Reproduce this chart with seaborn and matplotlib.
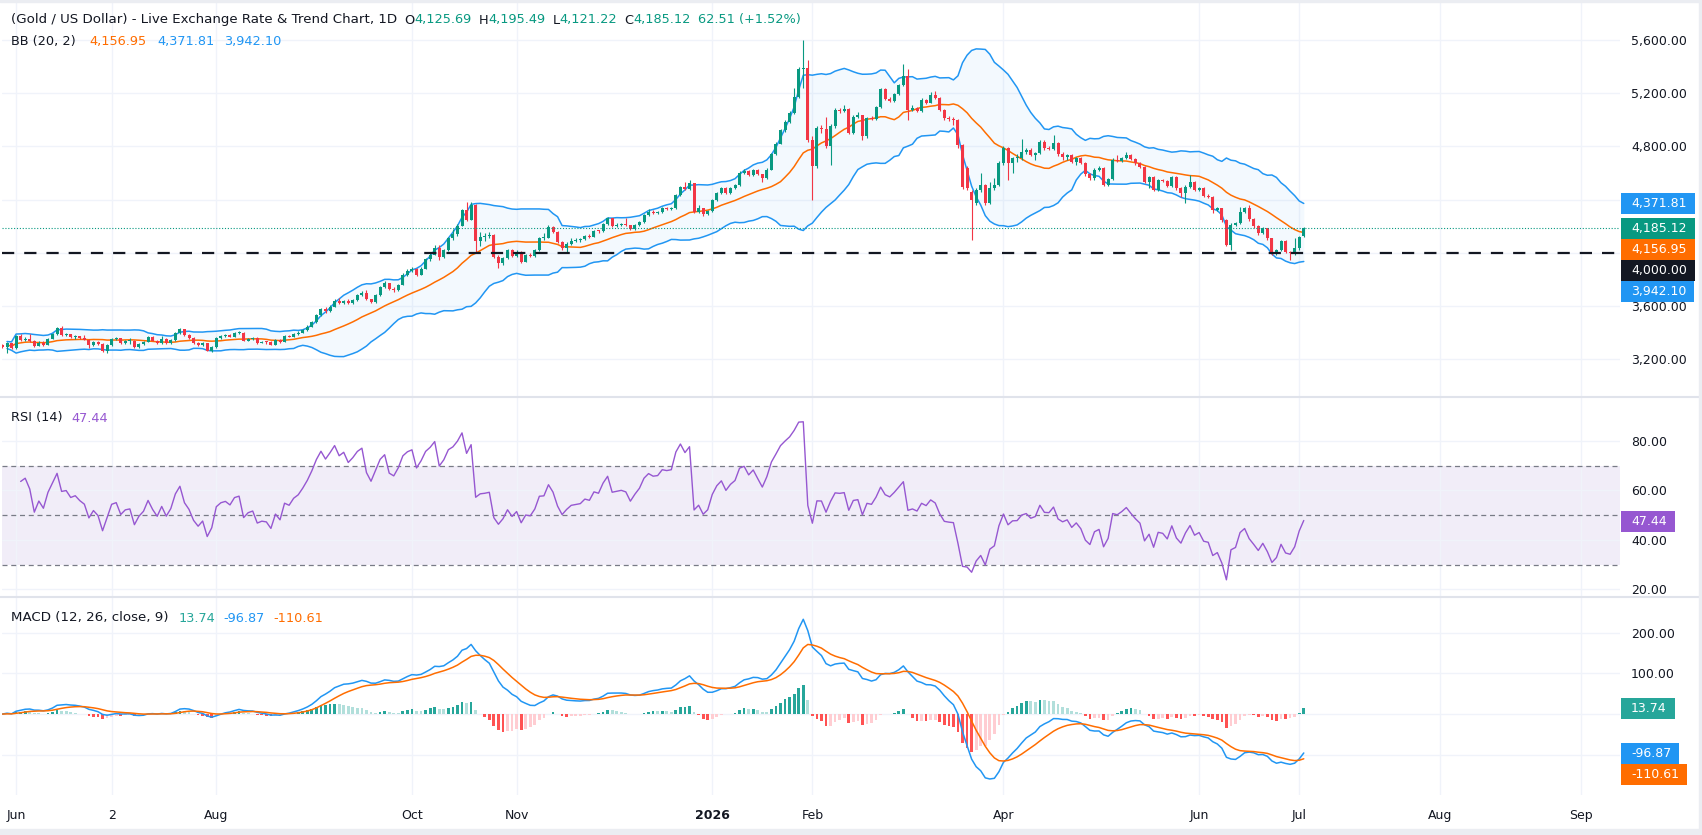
import numpy as np
import pandas as pd
import matplotlib
matplotlib.use("Agg")
import matplotlib.pyplot as plt
import seaborn as sns
from matplotlib.patches import Rectangle
from matplotlib.lines import Line2D
from matplotlib.ticker import FuncFormatter

# daily gold candles, 28 May 2025 .. 2 Jul 2026
opens = [
    3310, 3294, 3320, 3282, 3375, 3345, 3352, 3338, 3300, 3325,
    3310, 3355, 3390, 3432, 3382, 3386, 3365, 3372, 3358, 3348,
    3307, 3330, 3315, 3265, 3305, 3350, 3356, 3320, 3335, 3338,
    3290, 3315, 3330, 3365, 3340, 3320, 3350, 3322, 3345, 3395,
    3425, 3380, 3360, 3325, 3305, 3320, 3265, 3290, 3360, 3375,
    3380, 3370, 3395, 3400, 3340, 3355, 3360, 3325, 3330, 3328,
    3310, 3345, 3330, 3375, 3370, 3390, 3400, 3420, 3445, 3480,
    3530, 3575, 3560, 3595, 3640, 3620, 3640, 3620, 3645, 3680,
    3700, 3650, 3630, 3680, 3740, 3770, 3725, 3718, 3760, 3835,
    3865, 3880, 3835, 3880, 3950, 3985, 4040, 3970, 4018, 4110,
    4140, 4205, 4322, 4250, 4360, 4090, 4121, 4126, 4134, 3971,
    3921, 3958, 4021, 3976, 4009, 3933, 3983, 3978, 4021, 4109,
    4112, 4196, 4159, 4084, 4034, 4066, 4091, 4096, 4101, 4126,
    4121, 4166, 4161, 4217, 4259, 4202, 4207, 4212, 4207, 4177,
    4207, 4234, 4284, 4309, 4302, 4305, 4334, 4332, 4336, 4435,
    4497, 4477, 4522, 4309, 4334, 4292, 4314, 4397, 4452, 4485,
    4447, 4485, 4510, 4600, 4615, 4585, 4620, 4590, 4560, 4625,
    4740, 4820, 4920, 4985, 5050, 5170, 5380, 5390, 4850, 4650,
    4935, 4933, 4805, 4950, 5075, 5070, 5080, 4900, 5025, 5035,
    4875, 5015, 5005, 5095, 5230, 5160, 5140, 5195, 5262, 5330,
    5075, 5090, 5070, 5150, 5130, 5187, 5163, 5075, 5011, 5004,
    5000, 4810, 4640, 4460, 4372, 4472, 4510, 4372, 4485, 4510,
    4673, 4785, 4673, 4710, 4712, 4760, 4773, 4735, 4748, 4836,
    4785, 4783, 4823, 4743, 4723, 4735, 4685, 4710, 4673, 4593,
    4560, 4623, 4635, 4510, 4552, 4698, 4690, 4710, 4735, 4703,
    4673, 4648, 4535, 4567, 4472, 4547, 4540, 4502, 4567, 4485,
    4447, 4497, 4535, 4472, 4485, 4427, 4420, 4322, 4334, 4247,
    4059, 4209, 4222, 4309, 4334, 4252, 4202, 4146, 4184, 4109,
    3996, 4021, 4091, 4009, 3996, 4034, 4125.69,
]
highs = [
    3318, 3330, 3325, 3385, 3392, 3368, 3390, 3345, 3334, 3338,
    3362, 3398, 3440, 3448, 3398, 3392, 3380, 3378, 3380, 3352,
    3336, 3340, 3320, 3312, 3358, 3365, 3360, 3342, 3360, 3342,
    3322, 3338, 3372, 3372, 3346, 3378, 3356, 3352, 3402, 3438,
    3430, 3386, 3366, 3330, 3328, 3325, 3298, 3368, 3385, 3392,
    3388, 3402, 3410, 3405, 3362, 3370, 3366, 3338, 3336, 3334,
    3352, 3350, 3384, 3382, 3398, 3410, 3430, 3455, 3490, 3540,
    3585, 3592, 3604, 3652, 3658, 3648, 3650, 3654, 3690, 3710,
    3718, 3656, 3688, 3748, 3790, 3776, 3740, 3768, 3845, 3875,
    3895, 3886, 3890, 3960, 3995, 4058, 4060, 4030, 4118, 4180,
    4215, 4330, 4380, 4382, 4365, 4160, 4150, 4160, 4140, 3980,
    3970, 4030, 4030, 4020, 4015, 3992, 3995, 4030, 4118, 4150,
    4210, 4205, 4165, 4090, 4080, 4110, 4115, 4115, 4135, 4138,
    4175, 4172, 4226, 4268, 4264, 4225, 4225, 4260, 4212, 4216,
    4242, 4292, 4330, 4320, 4318, 4342, 4345, 4346, 4444, 4505,
    4530, 4550, 4526, 4360, 4340, 4325, 4405, 4460, 4495, 4492,
    4494, 4520, 4612, 4628, 4622, 4630, 4628, 4595, 4636, 4752,
    4832, 4932, 4998, 5070, 5240, 5395, 5600, 5450, 4880, 4950,
    4960, 5020, 4965, 5090, 5090, 5110, 5090, 5040, 5060, 5040,
    5025, 5030, 5105, 5240, 5236, 5175, 5205, 5270, 5420, 5380,
    5110, 5100, 5162, 5158, 5212, 5215, 5170, 5082, 5030, 5025,
    5010, 4820, 4650, 4470, 4485, 4600, 4520, 4530, 4560, 4690,
    4800, 4795, 4720, 4740, 4853, 4790, 4790, 4760, 4845, 4850,
    4800, 4885, 4830, 4760, 4745, 4745, 4720, 4718, 4680, 4600,
    4640, 4650, 4645, 4565, 4710, 4735, 4722, 4760, 4745, 4712,
    4680, 4655, 4575, 4575, 4558, 4556, 4548, 4578, 4575, 4492,
    4510, 4585, 4542, 4495, 4492, 4440, 4428, 4345, 4340, 4252,
    4222, 4235, 4345, 4345, 4362, 4260, 4210, 4195, 4190, 4115,
    4032, 4100, 4098, 4015, 4110, 4130, 4195.49,
]
lows = [
    3285, 3250, 3275, 3278, 3338, 3340, 3332, 3292, 3296, 3300,
    3305, 3350, 3385, 3378, 3372, 3358, 3355, 3350, 3342, 3282,
    3300, 3308, 3258, 3248, 3300, 3342, 3312, 3314, 3318, 3284,
    3282, 3310, 3326, 3334, 3314, 3316, 3316, 3318, 3340, 3390,
    3374, 3352, 3318, 3296, 3300, 3260, 3258, 3285, 3352, 3368,
    3364, 3365, 3390, 3334, 3335, 3348, 3318, 3320, 3318, 3304,
    3306, 3325, 3326, 3364, 3366, 3385, 3396, 3415, 3440, 3476,
    3525, 3548, 3552, 3590, 3612, 3614, 3612, 3615, 3640, 3672,
    3644, 3622, 3626, 3676, 3734, 3718, 3708, 3712, 3755, 3828,
    3858, 3826, 3830, 3875, 3940, 3980, 3945, 3960, 4012, 4100,
    4130, 4200, 4240, 4245, 4005, 4050, 4090, 4110, 3960, 3886,
    3910, 3950, 3965, 3968, 3925, 3928, 3968, 3970, 4015, 4095,
    4108, 4150, 4075, 4022, 4000, 4060, 4080, 4085, 4095, 4112,
    4116, 4152, 4156, 4212, 4195, 4196, 4200, 4200, 4170, 4172,
    4200, 4228, 4280, 4290, 4292, 4298, 4325, 4325, 4330, 4430,
    4470, 4472, 4300, 4300, 4280, 4285, 4308, 4390, 4445, 4440,
    4442, 4478, 4505, 4590, 4578, 4580, 4582, 4530, 4555, 4620,
    4735, 4815, 4910, 4978, 5045, 5165, 5240, 4830, 4400, 4640,
    4900, 4790, 4660, 4940, 5050, 5060, 4890, 4895, 5015, 4850,
    4865, 4995, 5000, 5090, 5150, 5132, 5135, 5188, 5255, 5000,
    5065, 5060, 5062, 5120, 5125, 5155, 5065, 5000, 4990, 4960,
    4790, 4480, 4470, 4096, 4360, 4460, 4360, 4365, 4475, 4500,
    4660, 4545, 4600, 4680, 4700, 4745, 4725, 4700, 4740, 4775,
    4770, 4775, 4730, 4700, 4700, 4675, 4660, 4665, 4580, 4545,
    4550, 4615, 4500, 4505, 4545, 4680, 4680, 4702, 4695, 4662,
    4640, 4525, 4485, 4462, 4465, 4530, 4492, 4498, 4475, 4420,
    4372, 4490, 4462, 4465, 4418, 4410, 4300, 4312, 4235, 4050,
    4022, 4200, 4215, 4300, 4240, 4190, 4135, 4140, 4098, 3985,
    3980, 4010, 3998, 3945, 3980, 4025, 4121.22,
]
closes = [
    3294, 3320, 3282, 3375, 3345, 3352, 3338, 3300, 3325, 3310,
    3355, 3390, 3432, 3382, 3386, 3365, 3372, 3358, 3348, 3307,
    3330, 3315, 3265, 3305, 3350, 3356, 3320, 3335, 3338, 3290,
    3315, 3330, 3365, 3340, 3320, 3350, 3322, 3345, 3395, 3425,
    3380, 3360, 3325, 3305, 3320, 3265, 3290, 3360, 3375, 3380,
    3370, 3395, 3400, 3340, 3355, 3360, 3325, 3330, 3328, 3310,
    3345, 3330, 3375, 3370, 3390, 3400, 3420, 3445, 3480, 3530,
    3575, 3560, 3595, 3640, 3620, 3640, 3620, 3645, 3680, 3700,
    3650, 3630, 3680, 3740, 3770, 3725, 3718, 3760, 3835, 3865,
    3880, 3835, 3880, 3950, 3985, 4040, 3970, 4018, 4110, 4140,
    4205, 4322, 4250, 4360, 4090, 4121, 4126, 4134, 3971, 3921,
    3958, 4021, 3976, 4009, 3933, 3983, 3978, 4021, 4109, 4112,
    4196, 4159, 4084, 4034, 4066, 4091, 4096, 4101, 4126, 4121,
    4166, 4161, 4217, 4259, 4202, 4207, 4212, 4207, 4177, 4207,
    4234, 4284, 4309, 4302, 4305, 4334, 4332, 4336, 4435, 4497,
    4477, 4522, 4309, 4334, 4292, 4314, 4397, 4452, 4485, 4447,
    4485, 4510, 4600, 4615, 4585, 4620, 4590, 4560, 4625, 4740,
    4820, 4920, 4985, 5050, 5170, 5380, 5390, 4850, 4650, 4935,
    4933, 4805, 4950, 5075, 5070, 5080, 4900, 5025, 5035, 4875,
    5015, 5005, 5095, 5230, 5160, 5140, 5195, 5262, 5330, 5075,
    5090, 5070, 5150, 5130, 5187, 5163, 5075, 5011, 5004, 5000,
    4810, 4497, 4485, 4397, 4472, 4510, 4372, 4485, 4510, 4673,
    4785, 4673, 4710, 4712, 4760, 4773, 4735, 4748, 4836, 4785,
    4783, 4823, 4743, 4723, 4735, 4685, 4710, 4673, 4593, 4560,
    4623, 4635, 4510, 4552, 4698, 4690, 4710, 4735, 4703, 4673,
    4648, 4535, 4567, 4472, 4547, 4540, 4502, 4567, 4485, 4447,
    4497, 4535, 4472, 4485, 4427, 4420, 4322, 4334, 4247, 4059,
    4209, 4222, 4309, 4334, 4252, 4202, 4146, 4184, 4109, 3996,
    4021, 4091, 4009, 3996, 4034, 4121, 4185.12,
]

# values printed in the legends / price scale
ohlc_text = ["4,125.69", "4,195.49", "4,121.22", "4,185.12"]
change_text = "62.51 (+1.52%)"
bb_last = [4156.95, 4371.81, 3942.10]      # basis, upper, lower
rsi_last = 47.44
macd_last = [13.74, -96.87, -110.61]       # histogram, macd, signal
level = 4000.00

price_ticks = [3200, 3600, 4000, 4400, 4800, 5200, 5600]
rsi_ticks = [20, 40, 60, 80]
macd_ticks = [-100, 0, 100, 200]
month_starts = ["2025-06", "2025-07", "2025-08", "2025-10", "2025-11", "2026-01",
                "2026-02", "2026-04", "2026-06", "2026-07", "2026-08", "2026-09"]
month_labels = ["Jun", "2", "Aug", "Oct", "Nov", "2026", "Feb", "Apr", "Jun", "Jul", "Aug", "Sep"]

GREEN, RED = "#089981", "#F23645"
BLUE, ORANGE, DARK = "#2196F3", "#FF6D00", "#131722"
PURPLE = "#9657D1"
GRID = "#F0F3FA"

dates = pd.bdate_range("2025-05-28", "2026-07-02")
df = pd.DataFrame({"open": opens, "high": highs, "low": lows, "close": closes}, index=dates)
df["x"] = np.arange(len(df))
c = df["close"]

# Bollinger (20, 2)
df["basis"] = c.rolling(20, min_periods=2).mean()
sd = c.rolling(20, min_periods=2).std(ddof=0)
df["upper"] = df["basis"] + 2 * sd
df["lower"] = df["basis"] - 2 * sd

# RSI (14), Wilder smoothing
delta = c.diff()
gain = delta.clip(lower=0).to_numpy()
loss = (-delta).clip(lower=0).to_numpy()
ag = pd.Series(gain).expanding(min_periods=4).mean().to_numpy()
al = pd.Series(loss).expanding(min_periods=4).mean().to_numpy()
for i in range(15, len(df)):
    ag[i] = (ag[i - 1] * 13 + gain[i]) / 14
    al[i] = (al[i - 1] * 13 + loss[i]) / 14
df["rsi"] = 100 - 100 / (1 + ag / al)

# MACD (12, 26, 9)
df["macd"] = c.ewm(span=12, adjust=False).mean() - c.ewm(span=26, adjust=False).mean()
df["signal"] = df["macd"].ewm(span=9, adjust=False).mean()
df["hist"] = df["macd"] - df["signal"]

W, H = 1702, 835
sns.set_style("white")
plt.rcParams["font.family"] = ["DejaVu Sans"]
fig = plt.figure(figsize=(W / 100, H / 100), dpi=100)


def panel(top, bottom):
    return fig.add_axes([2 / W, 1 - bottom / H, 1618 / W, (bottom - top) / H])


ax_p = panel(0, 397)
ax_r = panel(397, 597)
ax_m = panel(597, 795)

last = dates[-1]


def month_pos(m):
    start = pd.Timestamp(m)
    if start <= last:
        return int(np.searchsorted(dates, start))
    return len(dates) - 1 + (start - last).days


xticks = [month_pos(m) for m in month_starts]
x = df["x"].to_numpy()


def fmt(hidden):
    # tick labels that sit under a price-scale tag are left blank
    return FuncFormatter(lambda v, p: "" if round(v) in hidden else f"{v:,.2f}")


for ax, lim, ticks, hidden in [(ax_p, (2916, 5901), price_ticks, {4000}),
                               (ax_r, (16.9, 97.8), rsi_ticks, set()),
                               (ax_m, (-198.8, 287.5), macd_ticks, {0, -100})]:
    ax.set_xlim(-0.1, 355.5)
    ax.set_ylim(*lim)
    ax.set_xticks(xticks)
    ax.set_yticks(ticks)
    ax.grid(True, color=GRID, lw=1)
    ax.set_axisbelow(True)
    ax.yaxis.tick_right()
    ax.tick_params(axis="y", length=0, pad=8, labelsize=9, labelcolor=DARK)
    ax.tick_params(axis="x", length=0)
    for s in ax.spines.values():
        s.set_visible(False)
    ax.yaxis.set_major_formatter(fmt(hidden))

ax_p.set_xticklabels([])
ax_r.set_xticklabels([])
ax_m.set_xticklabels(month_labels)
ax_m.tick_params(axis="x", pad=10, labelsize=9, labelcolor=DARK)
for lab in ax_m.get_xticklabels():
    if lab.get_text() == "2026":
        lab.set_fontweight("bold")

# price panel
ax_p.fill_between(x, df["lower"], df["upper"], color=BLUE, alpha=0.05, lw=0, zorder=1)
sns.lineplot(x=x, y=df["upper"].to_numpy(), ax=ax_p, color=BLUE, lw=1.1, zorder=2)
sns.lineplot(x=x, y=df["lower"].to_numpy(), ax=ax_p, color=BLUE, lw=1.1, zorder=2)
sns.lineplot(x=x, y=df["basis"].to_numpy(), ax=ax_p, color=ORANGE, lw=1.1, zorder=2)

rising = df["close"] >= df["open"]
col = np.where(rising, GREEN, RED)
ax_p.vlines(x, df["low"], df["high"], colors=col, lw=0.8, zorder=3)
body_lo = np.minimum(df["open"], df["close"])
body_h = np.maximum((df["close"] - df["open"]).abs(), 7)
ax_p.bar(x, body_h, bottom=body_lo, width=0.66, color=col, lw=0, zorder=4)

ax_p.axhline(closes[-1], color=GREEN, lw=0.8, ls=(0, (1, 1.6)), zorder=5)
ax_p.axhline(level, color=DARK, lw=1.6, ls=(0, (5.5, 4.5)), zorder=5)

# RSI panel
ax_r.axhspan(30, 70, color="#7E57C2", alpha=0.1, lw=0, zorder=0)
for lv in (70, 50, 30):
    ax_r.axhline(lv, color="#787B86", lw=0.9, ls=(0, (4, 3)), zorder=1)
sns.lineplot(x=x, y=df["rsi"].to_numpy(), ax=ax_r, color=PURPLE, lw=1.0, zorder=3)

# MACD panel
h = df["hist"].to_numpy()
prev = np.r_[0, h[:-1]]
hcol = np.where(h >= 0, np.where(h >= prev, "#26A69A", "#B2DFDB"),
                np.where(h < prev, "#FF5252", "#FFCDD2"))
ax_m.bar(x, h, width=0.6, color=hcol, lw=0, zorder=2)
sns.lineplot(x=x, y=df["macd"].to_numpy(), ax=ax_m, color=BLUE, lw=1.1, zorder=3)
sns.lineplot(x=x, y=df["signal"].to_numpy(), ax=ax_m, color=ORANGE, lw=1.1, zorder=3)

for ax in (ax_p, ax_r, ax_m):
    ax.set_xlabel("")
    ax.set_ylabel("")

renderer = fig.canvas.get_renderer()


def text_row(x0, y, parts):
    for s, color, gap, size in parts:
        t = fig.text(x0 / W, 1 - y / H, s, color=color, fontsize=size, va="center", ha="left", zorder=12)
        x0 += t.get_window_extent(renderer).width + gap


text_row(11, 20, [("(Gold / US Dollar) - Live Exchange Rate & Trend Chart, 1D", DARK, 7, 9.6),
                  ("O", DARK, 0, 9.3), (ohlc_text[0], GREEN, 7, 9.3),
                  ("H", DARK, 0, 9.3), (ohlc_text[1], GREEN, 7, 9.3),
                  ("L", DARK, 0, 9.3), (ohlc_text[2], GREEN, 7, 9.3),
                  ("C", DARK, 0, 9.3), (ohlc_text[3], GREEN, 7, 9.3),
                  (change_text, GREEN, 0, 9.3)])
text_row(11, 42, [("BB (20, 2)", DARK, 14, 9.3), (f"{bb_last[0]:,.2f}", ORANGE, 10, 9.3),
                  (f"{bb_last[1]:,.2f}", BLUE, 10, 9.3), (f"{bb_last[2]:,.2f}", BLUE, 0, 9.3)])
text_row(11, 418, [("RSI (14)", DARK, 9, 9.3), (f"{rsi_last:.2f}", PURPLE, 0, 9.3)])
text_row(11, 618, [("MACD (12, 26, close, 9)", DARK, 10, 9.6), (f"{macd_last[0]:.2f}", "#26A69A", 8, 9.3),
                   (f"{macd_last[1]:.2f}", BLUE, 9, 9.3), (f"{macd_last[2]:.2f}", ORANGE, 0, 9.3)])


def tags(ax, items):
    # price-scale labels, pushed down so the boxes never overlap
    prev_y = -1e9
    for v, s, color in sorted(items, key=lambda t: -t[0]):
        y = H - ax.transData.transform((0, v))[1]
        y = max(y, prev_y + 21)
        prev_y = y
        t = fig.text(1631 / W, 1 - y / H, s, color="white", fontsize=9, va="center", ha="left", zorder=11)
        w = t.get_window_extent(renderer).x1 + 8 - 1621
        fig.add_artist(Rectangle((1621 / W, 1 - (y + 10.5) / H), w / W, 21 / H, transform=fig.transFigure,
                                 facecolor=color, edgecolor="none", zorder=10))


tags(ax_p, [(bb_last[1], f"{bb_last[1]:,.2f}", BLUE),
            (closes[-1], f"{closes[-1]:,.2f}", GREEN),
            (bb_last[0], f"{bb_last[0]:,.2f}", ORANGE),
            (level, f"{level:,.2f}", DARK),
            (bb_last[2], f"{bb_last[2]:,.2f}", BLUE)])
tags(ax_r, [(rsi_last, f"{rsi_last:.2f}", PURPLE)])
tags(ax_m, [(macd_last[0], f"{macd_last[0]:.2f}", "#26A69A"),
            (macd_last[1], f"{macd_last[1]:.2f}", BLUE),
            (macd_last[2], f"{macd_last[2]:.2f}", ORANGE)])

# pane separators and screenshot frame
for yy in (397, 597):
    fig.add_artist(Line2D([0, 1], [1 - yy / H] * 2, transform=fig.transFigure, color="#E0E3EB", lw=1.5))
fig.add_artist(Rectangle((0, 0), 1, 6 / H, transform=fig.transFigure, color="#EBEDF2", zorder=9))
fig.add_artist(Rectangle((1699 / W, 0), 3 / W, 1, transform=fig.transFigure, color="#EBEDF2", zorder=9))
fig.add_artist(Rectangle((0, 1 - 1.5 / H), 1, 1.5 / H, transform=fig.transFigure, color="#EBEDF2", zorder=9))

fig.savefig("out.png", dpi=100)
